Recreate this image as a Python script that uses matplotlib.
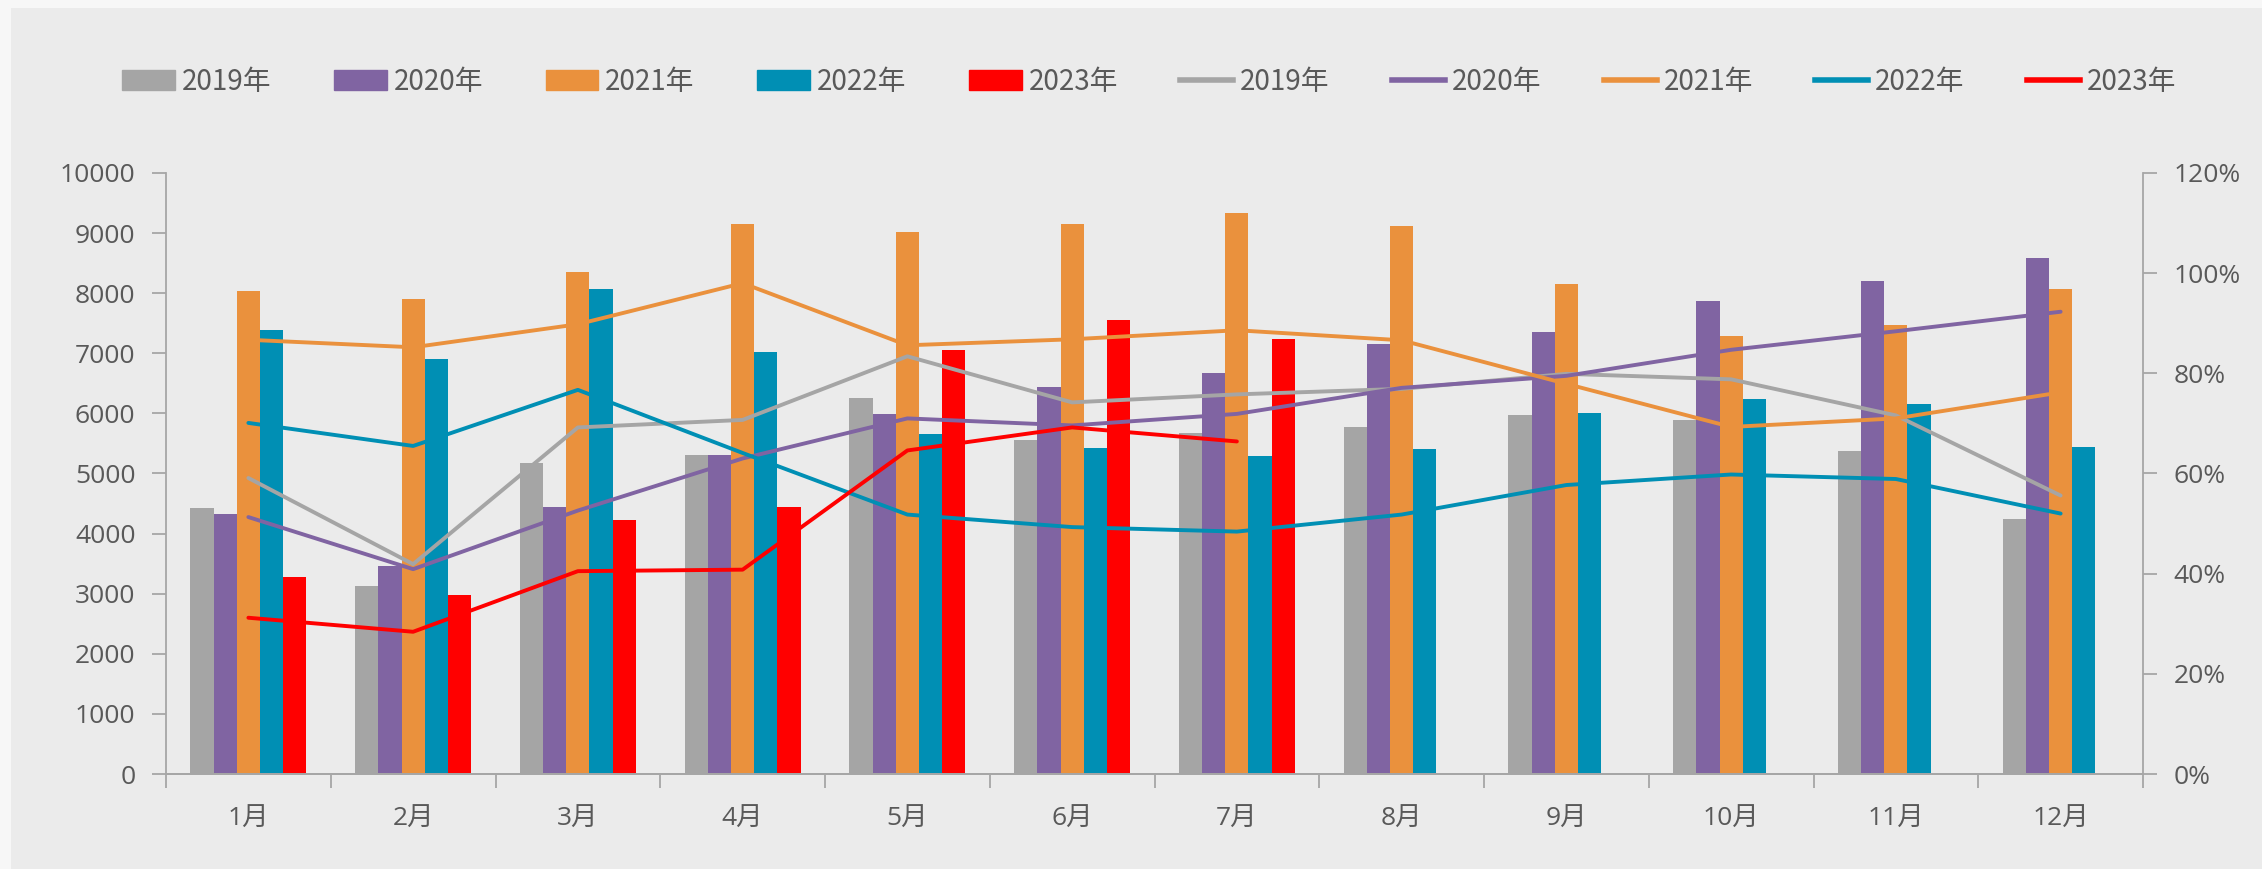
import numpy as np
import matplotlib.pyplot as plt
import matplotlib.patches as mpatches
from matplotlib.lines import Line2D
from matplotlib.ticker import FuncFormatter

plt.rcParams['font.family'] = ['Noto Sans CJK SC', 'DejaVu Sans']

months = ['1月', '2月', '3月', '4月', '5月', '6月', '7月', '8月', '9月', '10月', '11月', '12月']
years = ['2019年', '2020年', '2021年', '2022年', '2023年']

# bar values (left axis)
bar_2019 = [4430, 3120, 5180, 5300, 6250, 5560, 5680, 5780, 5980, 5890, 5370, 4240]
bar_2020 = [4330, 3460, 4440, 5310, 5990, 6440, 6680, 7150, 7350, 7870, 8210, 8580]
bar_2021 = [8040, 7910, 8350, 9150, 9020, 9150, 9330, 9120, 8150, 7280, 7470, 8070]
bar_2022 = [7390, 6900, 8070, 7020, 5660, 5420, 5290, 5400, 6010, 6240, 6150, 5440]
bar_2023 = [3270, 2980, 4230, 4440, 7050, 7560, 7240]

# line values (right axis, %)
line_2019 = [59.1, 41.9, 69.2, 70.7, 83.4, 74.2, 75.8, 76.9, 79.9, 78.8, 71.6, 55.6]
line_2020 = [51.3, 40.9, 52.6, 63.0, 71.0, 69.6, 71.9, 77.1, 79.5, 84.7, 88.4, 92.3]
line_2021 = [86.7, 85.2, 89.8, 98.0, 85.6, 86.8, 88.6, 86.6, 77.9, 69.3, 71.0, 76.2]
line_2022 = [70.1, 65.5, 76.7, 64.1, 51.8, 49.3, 48.4, 51.8, 57.7, 59.8, 58.9, 52.0]
line_2023 = [31.2, 28.4, 40.5, 40.8, 64.6, 69.2, 66.4]

colors = ['#A5A5A5', '#8064A2', '#EA913D', '#008FB4', '#FF0000']
text_color = '#595959'
axis_color = '#A6A6A6'
tick_font = ['Open Sans', 'Noto Sans CJK SC']

bars = [bar_2019, bar_2020, bar_2021, bar_2022, bar_2023]
lines = [line_2019, line_2020, line_2021, line_2022, line_2023]

fig = plt.figure(figsize=(22.62, 8.69), dpi=100, facecolor='#EBEBEB')
# light strips at top and left edge
fig.patches.append(mpatches.Rectangle((0, 1 - 8 / 869), 1, 8 / 869, transform=fig.transFigure,
                                      facecolor='#F7F7F7', edgecolor='none'))
fig.patches.append(mpatches.Rectangle((0, 0), 11 / 2262, 1, transform=fig.transFigure,
                                      facecolor='#F7F7F7', edgecolor='none'))

ax = fig.add_axes([166 / 2262, 1 - 774 / 869, (2143 - 166) / 2262, (774 - 173) / 869])
ax.set_facecolor('none')
ax2 = ax.twinx()

x = np.arange(len(months))
w = 0.141
for i, (vals, c) in enumerate(zip(bars, colors)):
    xs = x[:len(vals)] + (i - 2) * w
    ax.bar(xs, vals, width=w, color=c, edgecolor='none', label=years[i])

for vals, c, lab in zip(lines, colors, years):
    ax2.plot(x[:len(vals)], vals, color=c, lw=2.8, solid_capstyle='round', label=lab)

ax.set_xlim(-0.5, 11.5)
ax.set_ylim(0, 10000)
ax.set_yticks(range(0, 10001, 1000))
ax2.set_ylim(0, 120)
ax2.set_yticks(range(0, 121, 20))
ax2.yaxis.set_major_formatter(FuncFormatter(lambda v, p: f'{int(v)}%'))

ax.set_xticks(np.arange(-0.5, 12, 1))
ax.set_xticklabels([])
ax.set_xticks(x, minor=True)
ax.set_xticklabels(months, minor=True)
ax.tick_params(axis='x', which='major', length=10, width=1.3, color=axis_color, direction='out')
ax.tick_params(axis='x', which='minor', length=0, pad=24, labelsize=19, labelcolor=text_color)
ax.tick_params(axis='y', length=10, width=1.3, color=axis_color, pad=12,
               labelsize=19, labelcolor=text_color)
ax2.tick_params(axis='y', length=10, width=1.3, color=axis_color, pad=12,
                labelsize=19, labelcolor=text_color)

for lbl in ax.get_xticklabels(minor=True) + ax.get_yticklabels() + ax2.get_yticklabels():
    lbl.set_family(tick_font)

for a in (ax, ax2):
    for s in a.spines.values():
        s.set_visible(False)
    a.spines['bottom'].set_visible(True)
    a.spines['bottom'].set_color(axis_color)
    a.spines['bottom'].set_linewidth(1.3)
ax.spines['left'].set_visible(True)
ax.spines['left'].set_color(axis_color)
ax.spines['left'].set_linewidth(1.3)
ax2.spines['right'].set_visible(True)
ax2.spines['right'].set_color(axis_color)
ax2.spines['right'].set_linewidth(1.3)

handles = [mpatches.Patch(color=c) for c in colors] + \
          [Line2D([], [], color=c, lw=4) for c in colors]
labels = years + years
fig.legend(handles, labels, loc='center', bbox_to_anchor=(0.508, 0.906), ncol=10,
           frameon=False, fontsize=20, labelcolor=text_color, handlelength=1.9,
           handleheight=0.7, handletextpad=0.25, columnspacing=2.25)

fig.savefig('out.png', dpi=100, facecolor=fig.get_facecolor())
plt.close()
